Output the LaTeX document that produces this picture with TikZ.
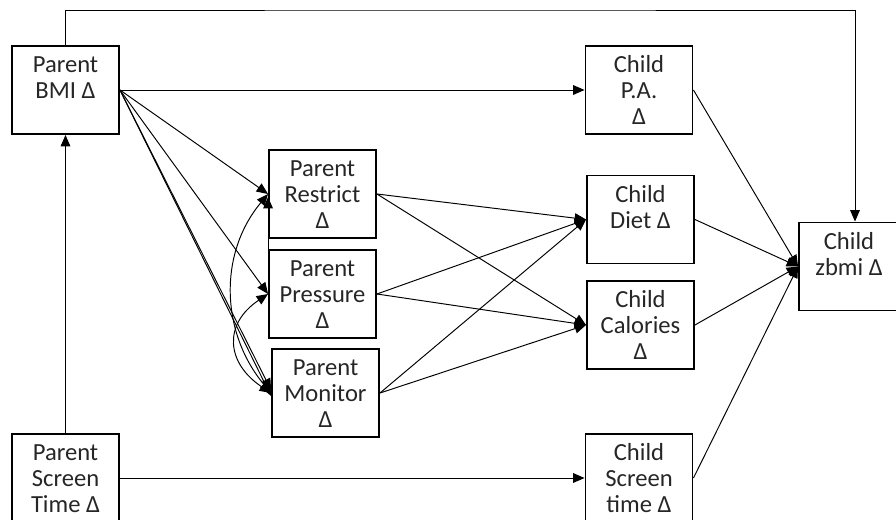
\documentclass[tikz,border=0pt]{standalone}
\usepackage{fontspec}
\setmainfont{Carlito}
\usetikzlibrary{arrows.meta}

\tikzset{
	var/.style={draw, line width=1.1pt, inner sep=0pt, minimum width=2.14cm, minimum height=1.76cm, font=\fontsize{14}{14.7}\selectfont, text=black!85},
	link/.style={-{Triangle[length=6.5pt,width=5.5pt]}, line width=0.55pt},
	cov/.style={{Triangle[length=6.5pt,width=5.5pt]}-{Triangle[length=6.5pt,width=5.5pt]}, line width=0.55pt}
}
\newcommand{\vartext}[1]{\parbox[c][1.76cm][t]{2cm}{\centering\vspace*{5pt}\strut#1}}

\begin{document}
\begin{tikzpicture}[x=0.02cm, y=-0.02cm]
	\useasboundingbox (0,0) rectangle (896,520);
	\clip (0,0) rectangle (896,520);
	%\draw[help lines] (0,0) grid (896,520);
	
	\node[var] (bmi) at (65.5,90) {\vartext{Parent\\BMI Δ}};
	\node[var] (pst) at (65.5,478) {\vartext{Parent\\Screen\\Time Δ}};
	\node[var] (restr) at (322.5,194) {\vartext{Parent\\Restrict\\Δ}};
	\node[var] (press) at (322.5,294) {\vartext{Parent\\Pressure\\Δ}};
	\node[var] (monit) at (325.5,393) {\vartext{Parent\\Monitor\\Δ}};
	\node[var] (pa) at (639,90) {\vartext{Child\\P.A.\\Δ}};
	\node[var] (diet) at (640.5,219.5) {\vartext{Child\\Diet Δ}};
	\node[var] (cal) at (640.5,325) {\vartext{Child\\Calories\\Δ}};
	\node[var] (cst) at (639,478) {\vartext{Child\\Screen\\time Δ}};
	\node[var, minimum width=1.92cm] (zbmi) at (849,266.5) {\vartext{Child\\zbmi Δ}};
	
	\coordinate (top) at (460,10);
	\draw[link] (bmi.north) |- (top) -| ([xshift=0.12cm]zbmi.north);
	\draw[link] (pst.north) -- (bmi.south);
	\draw[link] (bmi.east) -- (pa.west);
	\draw[link] (pst.east) -- (cst.west);
	
	\draw[link] (bmi.east) -- (restr.west);
	\draw[link] (bmi.east) -- (press.west);
	\draw[link] (bmi.east) -- ([yshift=0.06cm]monit.west);
	\draw[link] (bmi.east) -- ([yshift=-0.06cm]monit.west);
	
	\draw[cov] (restr.west) .. controls +(-50,60) and +(-50,-60) .. (monit.west);
	\draw[cov] (press.west) .. controls +(-45,30) and +(-45,-30) .. (monit.west);
	\draw[link] (press.north west) -- ([yshift=-0.06cm]restr.west);
	
	\foreach \src in {restr,press,monit}{
		\draw[link] (\src.east) -- (diet.west);
		\draw[link] (\src.east) -- (cal.west);
	}
	
	\foreach \src in {pa,diet,cal,cst}
		\draw[link] (\src.east) -- (zbmi.west);
\end{tikzpicture}
\end{document}
